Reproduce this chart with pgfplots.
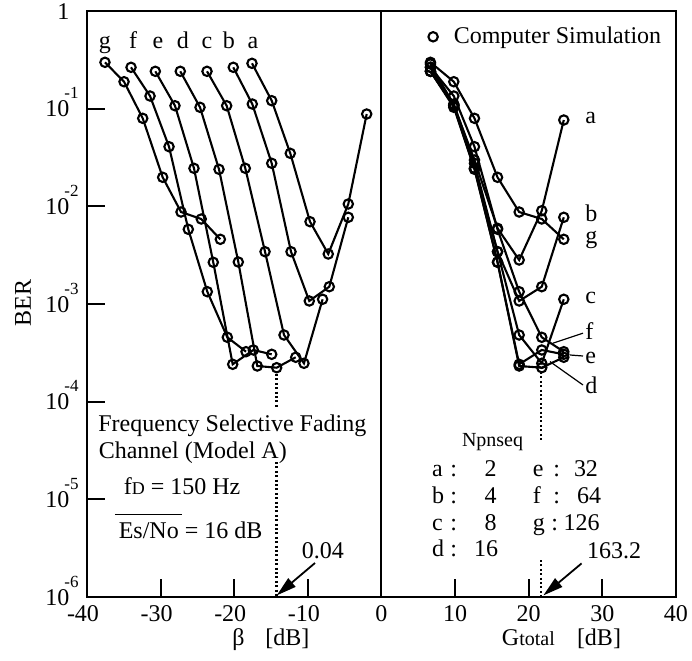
\documentclass[border=0pt]{standalone}
\usepackage{fontspec}
\setmainfont{Liberation Serif}
\usepackage{pgfplots}
\pgfplotsset{compat=1.18}
\usetikzlibrary{arrows.meta}
\newcommand\sups[1]{\raisebox{0.75em}{\fontsize{8.5}{9}\selectfont #1}}
\begin{document}
\fontsize{12}{14}\selectfont
\begin{tikzpicture}[font=\fontsize{12}{14}\selectfont]
\begin{axis}[
  at={(0,0)}, anchor=south west,
  scale only axis, width=294.5pt, height=293pt,
  xmin=-40, xmax=40, ymode=log, ymin=1e-6, ymax=1,
  axis line style={line width=1pt},
  xtick={-40,-30,-20,-10,0,10,20,30,40},
  xticklabels={\llap{-}40,\llap{-}30,\llap{-}20,\llap{-}10,0,10,20,30,40},
  ytick={1e-6,1e-5,1e-4,1e-3,1e-2,1e-1,1},
  yticklabels={10\kern-2.5pt\sups{-6},10\kern-2.5pt\sups{-5},10\kern-2.5pt\sups{-4},10\kern-2.5pt\sups{-3},10\kern-2.5pt\sups{-2},10\kern-2.5pt\sups{-1},1\phantom{\kern-2.5pt\sups{-1}}},
  yminorticks=false,
  major tick length=0pt,
  yticklabel style={anchor=base east, yshift=-4pt},
  ticklabel style={font=\fontsize{12}{14}\selectfont},
  clip=false,
  legend style={draw=none, fill=none, at={(0.579,0.956)}, anchor=west, inner sep=0pt, font=\fontsize{12}{14}\selectfont},
  curve/.style={black, line width=1.05pt, mark=o, mark size=2.35pt, mark options={fill=white, solid, line width=1.05pt}},
]
\addlegendimage{only marks, mark=o, mark size=2.35pt, mark options={fill=white, line width=1.05pt}}
\addlegendentry{\hspace{6pt}Computer Simulation}
% left panel: BER vs beta
\addplot[curve] coordinates {(-17.59,0.2913) (-14.91,0.1207) (-12.39,0.03491) (-9.71,0.006964) (-7.23,0.003251) (-4.51,0.01057) (-2.01,0.08818)};
\addplot[curve] coordinates {(-20.13,0.2652) (-17.55,0.1116) (-14.91,0.02758) (-12.29,0.003432) (-9.81,0.001074) (-7.09,0.001504) (-4.51,0.007722)};
\addplot[curve] coordinates {(-23.70,0.2413) (-21.03,0.1072) (-18.50,0.02452) (-15.82,0.003432) (-13.24,0.0004816) (-10.53,0.0002471) (-8.00,0.001118)};
\addplot[curve] coordinates {(-27.33,0.2413) (-24.65,0.1033) (-22.07,0.02394) (-19.45,0.002692) (-16.87,0.0002319) (-14.24,0.0002228) (-11.65,0.0002848)};
\addplot[curve] coordinates {(-30.72,0.2413) (-28.05,0.1072) (-25.47,0.02452) (-22.85,0.002673) (-20.21,0.0002414) (-17.41,0.0003382) (-14.91,0.0003055)};
\addplot[curve] coordinates {(-34.02,0.2652) (-31.44,0.1348) (-28.86,0.04080) (-26.24,0.005818) (-23.66,0.001337) (-20.94,0.0004563) (-18.40,0.0003249)};
\addplot[curve] coordinates {(-37.56,0.2984) (-34.97,0.1888) (-32.43,0.07966) (-29.72,0.01983) (-27.23,0.00875) (-24.48,0.00742) (-21.89,0.004597)};
% right panel: BER vs Gtotal
\addplot[curve] coordinates {(6.65,0.2866) (9.82,0.1090) (12.63,0.02981) (15.76,0.005960) (18.70,0.002822) (21.77,0.009023) (24.76,0.07656)};
\addplot[curve] coordinates {(6.65,0.2652) (9.82,0.1116) (12.63,0.02758) (15.76,0.003432) (18.70,0.001074) (21.77,0.001504) (24.76,0.007722)};
\addplot[curve] coordinates {(6.65,0.2413) (9.82,0.1072) (12.63,0.02452) (15.76,0.003432) (18.70,0.0004816) (21.77,0.0002471) (24.76,0.001118)};
\addplot[curve] coordinates {(6.65,0.2413) (9.82,0.1033) (12.63,0.02394) (15.76,0.002692) (18.70,0.0002319) (21.77,0.0002228) (24.76,0.0002848)};
\addplot[curve] coordinates {(6.65,0.2413) (9.82,0.1072) (12.63,0.02452) (15.76,0.002673) (18.70,0.0002414) (21.77,0.0003382) (24.76,0.0003055)};
\addplot[curve] coordinates {(6.65,0.2652) (9.82,0.1348) (12.63,0.04080) (15.76,0.005818) (18.70,0.001337) (21.77,0.0004563) (24.76,0.0003249)};
\addplot[curve] coordinates {(6.65,0.2984) (9.82,0.1888) (12.63,0.07966) (15.76,0.01983) (18.70,0.00875) (21.77,0.00742) (24.76,0.004597)};
\draw[line width=1pt] (axis cs:0,1e-6) -- (axis cs:0,1);
\end{axis}
% tick marks (inward), axis box lower-left at (0,0), 1 x unit = 3.68125pt
\begin{scope}[line width=1pt]
\draw (36.81pt,0pt) -- (36.81pt,9pt);
\draw (73.63pt,0pt) -- (73.63pt,9pt);
\draw (110.44pt,0pt) -- (110.44pt,9pt);
\draw (184.06pt,0pt) -- (184.06pt,9pt);
\draw (220.88pt,0pt) -- (220.88pt,9pt);
\draw (257.69pt,0pt) -- (257.69pt,9pt);
\draw (0pt,48.83pt) -- (9pt,48.83pt);
\draw (0pt,97.67pt) -- (9pt,97.67pt);
\draw (0pt,146.5pt) -- (9pt,146.5pt);
\draw (0pt,195.33pt) -- (9pt,195.33pt);
\draw (0pt,244.17pt) -- (9pt,244.17pt);
\end{scope}
% dotted markers
\begin{scope}[line width=1.2pt, dash pattern=on 1pt off 1.2pt]
\draw (94.85pt,111.5pt) -- (94.85pt,95pt);
\draw (94.85pt,67.5pt) -- (94.85pt,0pt);
\draw (227pt,112.5pt) -- (227pt,77.5pt);
\draw (227pt,18.5pt) -- (227pt,0pt);
\end{scope}
% arrows
\draw[line width=0.9pt, -{Triangle[length=10pt,width=5.5pt]}] (114pt,17pt) -- (94.85pt,0.8pt);
\draw[line width=0.9pt, -{Triangle[length=10pt,width=5.5pt]}] (247.3pt,16.8pt) -- (228.2pt,0.8pt);
% curve letters, left
\begin{scope}[every node/.style={anchor=base, inner sep=0pt}]
\node at (9pt,274.3pt) {g};
\node at (23pt,274.3pt) {f};
\node at (35.5pt,274.3pt) {e};
\node at (48pt,274.3pt) {d};
\node at (60pt,274.3pt) {c};
\node at (71pt,274.3pt) {b};
\node at (83pt,274.3pt) {a};
\end{scope}
% curve letters, right
\begin{scope}[every node/.style={anchor=base west, inner sep=0pt}]
\node at (249pt,236.9pt) {a};
\node at (249pt,187.5pt) {b};
\node at (249pt,176.6pt) {g};
\node at (249pt,146.9pt) {c};
\node at (249pt,128.5pt) {f};
\node at (249pt,116.9pt) {e};
\node at (249pt,101.9pt) {d};
\end{scope}
\draw[line width=0.6pt] (232.9pt,126.9pt) -- (248pt,131.9pt);
\draw[line width=0.6pt] (241.5pt,121pt) -- (248pt,120.5pt);
\draw[line width=0.6pt] (231.5pt,117.7pt) -- (248pt,106pt);
% left annotations
\begin{scope}[every node/.style={anchor=base west, inner sep=0pt}]
\node at (5.5pt,82.7pt) {Frequency Selective Fading};
\node at (5.7pt,69.3pt) {Channel (Model A)};
\node at (18.2pt,51.5pt) {f{\fontsize{9}{10}\selectfont D} = 150 Hz};
\node at (15.7pt,29.3pt) {Es/No = 16 dB};
\node at (107.3pt,19.3pt) {0.04};
\node at (249.8pt,19.3pt) {163.2};
\node at (187.3pt,75.5pt) {\fontsize{10}{12}\selectfont Npnseq};
% table
\node at (172.3pt,60.2pt) {a};
\node at (172.3pt,46.8pt) {b};
\node at (172.3pt,33.5pt) {c};
\node at (172.3pt,20.2pt) {d};
\node at (181.5pt,60.2pt) {:};
\node at (181.5pt,46.8pt) {:};
\node at (181.5pt,33.5pt) {:};
\node at (181.5pt,20.2pt) {:};
\node at (222.7pt,60.2pt) {e};
\node at (222.7pt,46.8pt) {f};
\node at (222.7pt,33.5pt) {g};
\node at (233pt,60.2pt) {:};
\node at (233pt,46.8pt) {:};
\node at (232pt,33.5pt) {:};
% axis labels
\node at (72.5pt,-24pt) {β};
\node at (89pt,-24pt) {[dB]};
\node at (207.3pt,-24pt) {G{\fontsize{10}{12}\selectfont total}};
\node at (244.8pt,-24pt) {[dB]};
\end{scope}
\begin{scope}[every node/.style={anchor=base east, inner sep=0pt}]
\node at (205pt,60.2pt) {2};
\node at (205pt,46.8pt) {4};
\node at (205pt,33.5pt) {8};
\node at (205.7pt,20.2pt) {16};
\node at (255.7pt,60.2pt) {32};
\node at (257.3pt,46.8pt) {64};
\node at (256.5pt,33.5pt) {126};
\end{scope}
\draw[line width=0.7pt] (14pt,41.3pt) -- (47.3pt,41.3pt);
\node[rotate=90, inner sep=0pt] at (-32pt,147pt) {BER};
\pgfresetboundingbox
\useasboundingbox (-43.5pt,-31.5pt) rectangle (302.5pt,298.5pt);
\end{tikzpicture}
\end{document}
